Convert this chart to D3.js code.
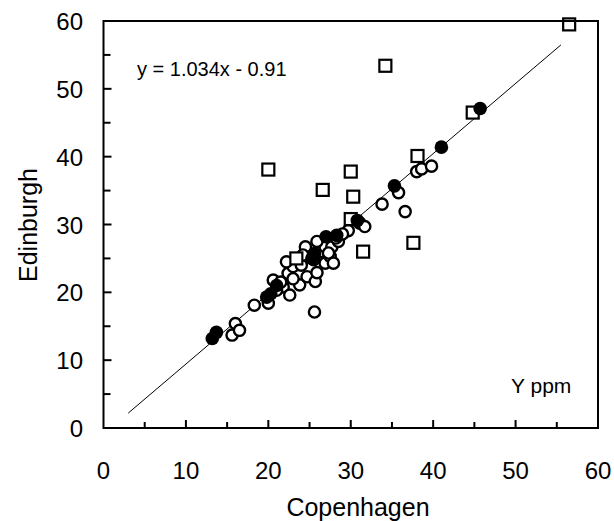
<!DOCTYPE html>
<html>
<head>
<meta charset="utf-8">
<script src="https://cdn.jsdelivr.net/npm/d3@7"></script>
<style>
  body { margin: 0; background: #fff; }
  svg text { font-family: "Liberation Sans", Arial, sans-serif; fill: #000; }
</style>
</head>
<body>
<svg id="chart" width="614" height="521"></svg>
<script>
// Global config
var plotLeft = 103.5, plotRight = 598, plotTop = 21, plotBottom = 428;

// Data (Copenhagen, Edinburgh)
var openCircles = [
  [15.6,13.7],[16.0,15.4],[16.5,14.4],[18.3,18.1],[20.0,18.4],[20.6,21.8],
  [21.8,20.8],[22.6,19.6],[23.8,21.1],[22.4,22.8],[23.0,23.8],[24.7,22.3],
  [25.7,21.6],[25.9,22.9],[25.5,24.8],[26.9,24.3],[27.5,25.3],[26.3,26.0],
  [24.5,26.7],[26.9,26.7],[25.9,27.5],[25.6,17.1],[27.9,24.3],[27.7,26.7],
  [28.5,27.5],[29.7,29.1],[31.1,30.2],[31.7,29.7],[33.8,33.0],[35.8,34.7],
  [36.6,31.9],[38.0,37.8],[38.6,38.2],[39.8,38.6],[22.2,24.5],[21.5,21.5],
  [24.0,24.0],[23.0,22.0],[27.3,25.8],[28.2,28.0],[21.0,20.3],[24.2,25.5],
  [29.0,28.6]
];
var filledCircles = [
  [13.2,13.2],[13.7,14.1],[19.8,19.3],[20.3,19.8],[21.0,21.0],[25.3,25.0],
  [25.6,25.7],[27.0,28.2],[28.3,28.4],[30.8,30.6],[35.3,35.7],[41.0,41.4],
  [45.7,47.1]
];
var squares = [
  [56.5,59.5],[34.2,53.4],[44.8,46.5],[20.0,38.1],[26.6,35.1],[38.1,40.1],
  [30.0,37.8],[30.3,34.1],[30.0,30.8],[37.6,27.3],[31.5,26.0],[23.4,25.0]
];
var majorTicks = [0, 10, 20, 30, 40, 50, 60];
var minorTicks = [5, 15, 25, 35, 45, 55];
var slope = 1.034, intercept = -0.91;
var fitRange = [3, 55.5];

var svg = d3.select("#chart");
var x = d3.scaleLinear().domain([0, 60]).range([plotLeft, plotRight]);
var y = d3.scaleLinear().domain([0, 60]).range([plotBottom, plotTop]);

// Regression line
svg.append("line")
  .attr("x1", x(fitRange[0])).attr("y1", y(slope * fitRange[0] + intercept))
  .attr("x2", x(fitRange[1])).attr("y2", y(slope * fitRange[1] + intercept))
  .attr("stroke", "#000").attr("stroke-width", 1);

// Points: open circles, then squares, then filled circles on top
svg.selectAll(".open").data(openCircles).enter().append("circle")
  .attr("class", "open")
  .attr("cx", function(d){ return x(d[0]); })
  .attr("cy", function(d){ return y(d[1]); })
  .attr("r", 5.6)
  .attr("fill", "#fff").attr("stroke", "#000").attr("stroke-width", 2.4);

svg.selectAll(".sq").data(squares).enter().append("rect")
  .attr("class", "sq")
  .attr("x", function(d){ return x(d[0]) - 6; })
  .attr("y", function(d){ return y(d[1]) - 6; })
  .attr("width", 12).attr("height", 12)
  .attr("fill", "#fff").attr("stroke", "#000").attr("stroke-width", 2.2);

svg.selectAll(".filled").data(filledCircles).enter().append("circle")
  .attr("class", "filled")
  .attr("cx", function(d){ return x(d[0]); })
  .attr("cy", function(d){ return y(d[1]); })
  .attr("r", 6.8)
  .attr("fill", "#000");

// Frame
svg.append("rect")
  .attr("x", plotLeft).attr("y", plotTop)
  .attr("width", plotRight - plotLeft).attr("height", plotBottom - plotTop)
  .attr("fill", "none").attr("stroke", "#000").attr("stroke-width", 2);

// Inward ticks
var tickG = svg.append("g").attr("stroke", "#000").attr("stroke-width", 2);
majorTicks.slice(1, -1).forEach(function(t){
  tickG.append("line").attr("x1", x(t)).attr("x2", x(t)).attr("y1", plotBottom).attr("y2", plotBottom - 8);
  tickG.append("line").attr("x1", plotLeft).attr("x2", plotLeft + 8).attr("y1", y(t)).attr("y2", y(t));
});
minorTicks.forEach(function(t){
  tickG.append("line").attr("x1", x(t)).attr("x2", x(t)).attr("y1", plotBottom).attr("y2", plotBottom - 6);
  tickG.append("line").attr("x1", plotLeft).attr("x2", plotLeft + 7).attr("y1", y(t)).attr("y2", y(t));
});

// Tick labels
svg.selectAll(".xl").data(majorTicks).enter().append("text")
  .attr("x", function(d){ return x(d); })
  .attr("y", 479)
  .attr("text-anchor", "middle")
  .attr("font-size", 24)
  .text(function(d){ return d; });

svg.selectAll(".yl").data(majorTicks).enter().append("text")
  .attr("x", 83)
  .attr("y", function(d){ return y(d) + 9; })
  .attr("text-anchor", "end")
  .attr("font-size", 24)
  .text(function(d){ return d; });

// Axis titles
svg.append("text")
  .attr("x", 358).attr("y", 516)
  .attr("text-anchor", "middle").attr("font-size", 25)
  .text("Copenhagen");
svg.append("text")
  .attr("transform", "translate(37,225) rotate(-90)")
  .attr("text-anchor", "middle").attr("font-size", 25)
  .text("Edinburgh");

// Annotations
svg.append("text")
  .attr("x", 137).attr("y", 76)
  .attr("font-size", 20)
  .text("y = 1.034x - 0.91");
svg.append("text")
  .attr("x", 511).attr("y", 393)
  .attr("font-size", 21)
  .text("Y ppm");
</script>
</body>
</html>
